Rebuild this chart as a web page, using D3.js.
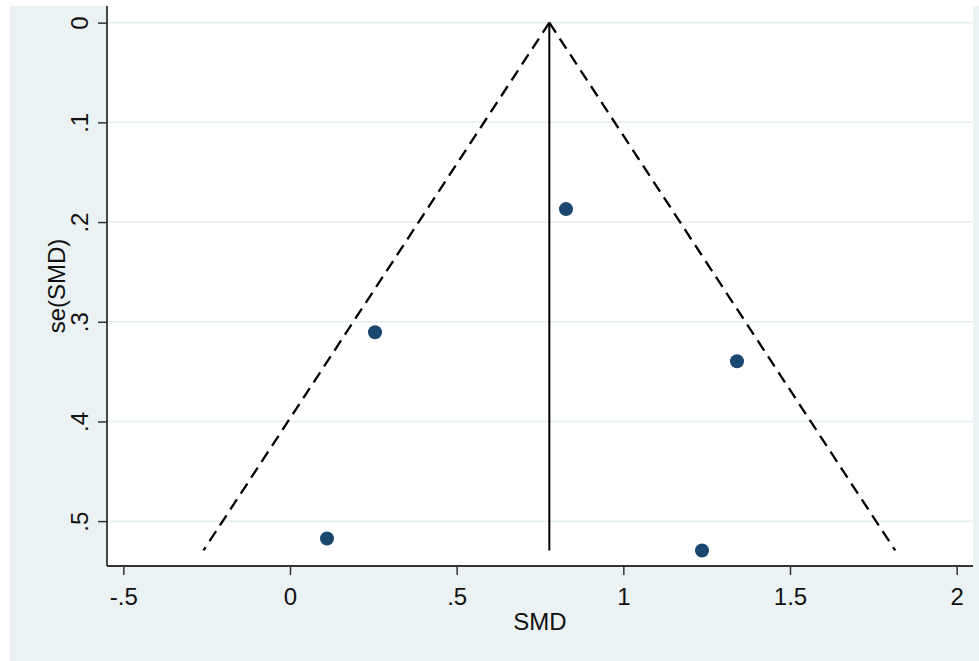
<!DOCTYPE html>
<html>
<head>
<meta charset="utf-8">
<script src="https://cdn.jsdelivr.net/npm/d3@7/dist/d3.min.js"></script>
<style>
  html, body { margin: 0; padding: 0; background: #ffffff; }
  svg { display: block; font-family: "Liberation Sans", Arial, Helvetica, sans-serif; }
</style>
</head>
<body>
<svg id="chart" width="979" height="661"></svg>
<script>
// Data
const smd = [0.828, 0.255, 1.341, 0.111, 1.236];
const seSmd = [0.187, 0.3105, 0.3397, 0.5174, 0.5294];
const pooledSmd = 0.778;
const xTicks = [-0.5, 0, 0.5, 1, 1.5, 2];
const xTickLabels = ["-.5", "0", ".5", "1", "1.5", "2"];
const yTicks = [0, 0.1, 0.2, 0.3, 0.4, 0.5];
const yTickLabels = ["0", ".1", ".2", ".3", ".4", ".5"];

const svg = d3.select("#chart");
const W = 979, H = 661;
const plot = { left: 107, right: 973, top: 6, bottom: 566 };

// outer background
svg.append("rect").attr("x", 10).attr("y", 6).attr("width", W - 10).attr("height", H - 6)
  .attr("fill", "#eaf2f3");
// plot region
svg.append("rect").attr("x", plot.left).attr("y", plot.top)
  .attr("width", plot.right - plot.left).attr("height", plot.bottom - plot.top)
  .attr("fill", "#ffffff");

const x = d3.scaleLinear().domain([-0.549, 2.049]).range([plot.left, plot.right]);
const y = d3.scaleLinear().domain([-0.0167, 0.545]).range([plot.top, plot.bottom]);

// gridlines
svg.append("g").selectAll("line").data(yTicks).join("line")
  .attr("x1", plot.left).attr("x2", plot.right)
  .attr("y1", d => y(d)).attr("y2", d => y(d))
  .attr("stroke", "#e3eef0").attr("stroke-width", 1.5);

// funnel
const seMax = d3.max(seSmd);
const funnelLeft = [[pooledSmd, 0], [pooledSmd - 1.96 * seMax, seMax]];
const funnelRight = [[pooledSmd, 0], [pooledSmd + 1.96 * seMax, seMax]];
const line = d3.line().x(d => x(d[0])).y(d => y(d[1]));
[funnelLeft, funnelRight].forEach(f => {
  svg.append("path").attr("d", line(f)).attr("fill", "none")
    .attr("stroke", "#000").attr("stroke-width", 2.3).attr("stroke-dasharray", "12,7");
});
svg.append("path").attr("d", line([[pooledSmd, 0], [pooledSmd, seMax]]))
  .attr("fill", "none").attr("stroke", "#000").attr("stroke-width", 2);

// points
svg.append("g").selectAll("circle").data(smd.map((v, i) => [v, seSmd[i]])).join("circle")
  .attr("cx", d => x(d[0])).attr("cy", d => y(d[1])).attr("r", 7)
  .attr("fill", "#1a476f");

// axes
const xAxis = d3.axisBottom(x).tickValues(xTicks).tickSize(9).tickPadding(5)
  .tickFormat((d, i) => xTickLabels[i]);
const gx = svg.append("g").attr("transform", `translate(0,${plot.bottom})`).call(xAxis);
gx.select(".domain").attr("d", `M${plot.left},0H${plot.right}`).attr("stroke", "#333").attr("stroke-width", 1.8);
gx.selectAll(".tick line").attr("stroke", "#333").attr("stroke-width", 1.5);
gx.selectAll(".tick text").attr("font-size", 24).attr("fill", "#111")
  .attr("font-family", "'Liberation Sans', Arial, sans-serif")
  .attr("dy", null).attr("y", 39);

const yAxis = d3.axisLeft(y).tickValues(yTicks).tickSize(9).tickPadding(0)
  .tickFormat((d, i) => yTickLabels[i]);
const gy = svg.append("g").attr("transform", `translate(${plot.left},0)`).call(yAxis);
gy.select(".domain").attr("d", `M0,${plot.top}V${plot.bottom}`).attr("stroke", "#333").attr("stroke-width", 1.8);
gy.selectAll(".tick line").attr("stroke", "#333").attr("stroke-width", 1.5);
gy.selectAll(".tick text").attr("font-size", 24).attr("fill", "#111")
  .attr("font-family", "'Liberation Sans', Arial, sans-serif")
  .attr("x", null).attr("dy", null)
  .attr("text-anchor", "middle")
  .attr("transform", "translate(-19,0) rotate(-90)");

// axis titles
svg.append("text").attr("x", (plot.left + plot.right) / 2).attr("y", 630)
  .attr("text-anchor", "middle").attr("font-size", 24).attr("fill", "#111").text("SMD");
svg.append("text").attr("transform", `translate(65,${(plot.top + plot.bottom) / 2}) rotate(-90)`)
  .attr("text-anchor", "middle").attr("font-size", 24).attr("fill", "#111").text("se(SMD)");
</script>
</body>
</html>
